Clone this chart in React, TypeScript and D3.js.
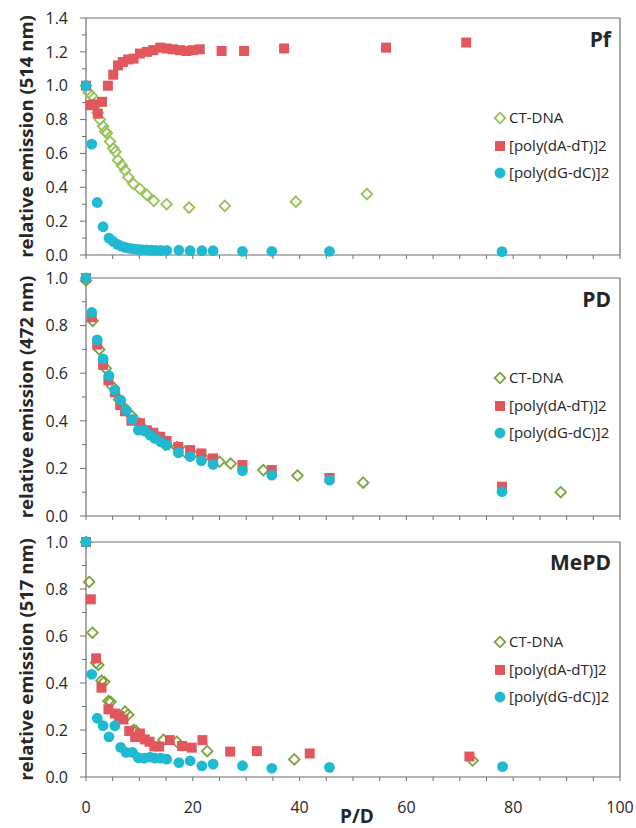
import React from 'react';
import * as d3 from 'd3';

// ---------- data ----------
const xTickValues = [0, 20, 40, 60, 80, 100];
const legendLabels = ['CT-DNA', '[poly(dA-dT)]2', '[poly(dG-dC)]2'];
const panelNames = ['Pf', 'PD', 'MePD'];
const yTitles = ['relative emission (514 nm)', 'relative emission (472 nm)', 'relative emission (517 nm)'];

const pfCT: [number, number][] = [[0,1.0],[0.5,0.96],[1.1,0.94],[1.7,0.88],[2.2,0.84],[2.6,0.8],[3.2,0.76],[3.6,0.73],[3.9,0.72],[4.5,0.67],[5.1,0.63],[5.5,0.61],[6.0,0.56],[6.7,0.53],[7.3,0.5],[7.9,0.46],[8.9,0.42],[10.1,0.39],[11.4,0.355],[12.7,0.32],[15.1,0.3],[19.3,0.28],[26,0.29],[39.3,0.315],[52.6,0.36]];
const pfAT: [number, number][] = [[0,1.0],[0.8,0.885],[1.4,0.89],[2.2,0.835],[3.0,0.905],[4.1,1.0],[5.1,1.065],[6.0,1.12],[6.9,1.14],[7.9,1.155],[8.9,1.16],[10.1,1.19],[11.4,1.2],[12.6,1.21],[13.9,1.225],[15.1,1.22],[16.3,1.215],[17.6,1.21],[18.8,1.205],[20,1.21],[21.3,1.215],[25.4,1.205],[29.6,1.205],[37.1,1.22],[56.2,1.225],[71.2,1.255]];
const pfGC: [number, number][] = [[0,1.0],[1.07,0.655],[2.1,0.31],[3.2,0.167],[4.3,0.1],[5.1,0.08],[5.9,0.063],[6.6,0.052],[7.4,0.045],[8.1,0.04],[8.9,0.036],[9.7,0.033],[10.5,0.031],[11.4,0.03],[12.2,0.028],[13.0,0.027],[14.0,0.027],[15.1,0.027],[17.4,0.028],[19.5,0.025],[21.7,0.025],[23.8,0.025],[29.3,0.022],[34.8,0.022],[45.6,0.022],[77.9,0.02]];

const pdCT: [number, number][] = [[0,0.99],[1.25,0.82],[2.5,0.7],[3.7,0.62],[4.9,0.545],[6.2,0.49],[7.4,0.45],[8.6,0.42],[9.9,0.39],[11.1,0.36],[12.3,0.34],[13.6,0.32],[14.8,0.3],[17,0.29],[18.5,0.27],[20,0.26],[22,0.245],[25,0.228],[27.1,0.22],[33.2,0.193],[39.6,0.17],[51.9,0.14],[88.9,0.1]];
const pdAT: [number, number][] = [[0,1.0],[1.07,0.835],[2.1,0.72],[3.2,0.635],[4.2,0.57],[5.4,0.52],[6.4,0.466],[7.3,0.44],[8.5,0.4],[10.1,0.39],[11.4,0.36],[12.6,0.35],[13.9,0.333],[15.1,0.315],[17.3,0.29],[19.5,0.277],[21.6,0.263],[23.8,0.242],[29.3,0.214],[34.8,0.193],[45.6,0.16],[77.9,0.123]];
const pdGC: [number, number][] = [[0,1.0],[1.07,0.855],[2.1,0.74],[3.2,0.66],[4.3,0.59],[5.4,0.53],[6.5,0.487],[7.5,0.445],[8.7,0.406],[9.8,0.361],[10.9,0.358],[12,0.34],[12.9,0.326],[14,0.312],[15.1,0.298],[17.3,0.266],[19.5,0.25],[21.6,0.232],[23.8,0.217],[29.3,0.19],[34.8,0.172],[45.6,0.151],[77.9,0.102]];

const mepdCT: [number, number][] = [[0,1.0],[0.6,0.83],[1.2,0.614],[1.9,0.486],[2.3,0.477],[2.9,0.41],[3.4,0.405],[4.2,0.323],[4.6,0.32],[7.3,0.278],[7.9,0.265],[8.9,0.2],[9.4,0.195],[14.5,0.158],[17,0.15],[22.7,0.11],[39,0.075],[72.4,0.07]];
const mepdAT: [number, number][] = [[0,1.0],[0.9,0.756],[1.9,0.505],[2.9,0.38],[4.2,0.288],[5.4,0.27],[6.2,0.26],[7.0,0.245],[8.1,0.196],[9.2,0.17],[10.1,0.185],[11.0,0.16],[11.9,0.15],[12.8,0.13],[13.7,0.13],[15.7,0.157],[18.0,0.132],[19.8,0.125],[21.8,0.157],[27,0.108],[32,0.11],[41.9,0.1],[71.8,0.087]];
const mepdGC: [number, number][] = [[0,1.0],[1.07,0.437],[2.1,0.25],[3.2,0.218],[4.3,0.171],[5.4,0.218],[6.5,0.126],[7.5,0.105],[8.7,0.105],[9.8,0.082],[10.9,0.08],[12,0.085],[12.9,0.08],[14,0.08],[15.1,0.076],[17.4,0.061],[19.5,0.069],[21.7,0.047],[23.8,0.055],[29.3,0.048],[34.8,0.037],[45.6,0.041],[78,0.044]];

// ---------- layout ----------
const W = 636, H = 828;
const X0 = 86, X1 = 620;
const FONT = "'Open Sans', sans-serif";
const AXIS = '#6e6e6e';
const TEXT = '#262626';
const RED = '#e2575e';
const BLUE = '#1fbad2';

const panels = [
  { name: panelNames[0], title: yTitles[0], yMax: 1.4, top: 18, bottom: 255, series: [pfCT, pfAT, pfGC], green: '#95c257', legendY: 118, nameY: 39 },
  { name: panelNames[1], title: yTitles[1], yMax: 1.0, top: 278, bottom: 516, series: [pdCT, pdAT, pdGC], green: '#79a53b', legendY: 378, nameY: 299 },
  { name: panelNames[2], title: yTitles[2], yMax: 1.0, top: 542, bottom: 777, series: [mepdCT, mepdAT, mepdGC], green: '#79a53b', legendY: 642, nameY: 562 },
];

const x = d3.scaleLinear().domain([0, 100]).range([X0, X1]);

function Diamond({ cx, cy, color }: { cx: number; cy: number; color: string }) {
  const r = 5.3;
  return <path d={`M${cx},${cy - r}L${cx + r},${cy}L${cx},${cy + r}L${cx - r},${cy}Z`} fill="white" fillOpacity={0} stroke={color} strokeWidth={1.8} />;
}
function Square({ cx, cy }: { cx: number; cy: number }) {
  const s = 10;
  return <rect x={cx - s / 2} y={cy - s / 2} width={s} height={s} fill={RED} />;
}
function Circle({ cx, cy }: { cx: number; cy: number }) {
  return <circle cx={cx} cy={cy} r={5.4} fill={BLUE} />;
}

function Panel({ p, last }: { p: typeof panels[number]; last: boolean }) {
  const y = d3.scaleLinear().domain([0, p.yMax]).range([p.bottom, p.top]);
  const nMinor = Math.round(p.yMax / 0.1);
  const yMinor = d3.range(0, nMinor + 1).map((i) => i * 0.1);
  const yMajor = d3.range(0, Math.round(p.yMax / 0.2) + 1).map((i) => i * 0.2);
  const xMinor = d3.range(0, 21).map((i) => i * 5);
  const [ct, at, gc] = p.series;
  const midY = (p.top + p.bottom) / 2;
  return (
    <g>
      {/* frame */}
      <line x1={X0} x2={X1} y1={p.top} y2={p.top} stroke={AXIS} strokeWidth={1.2} />
      <line x1={X1} x2={X1} y1={p.top} y2={p.bottom} stroke={AXIS} strokeWidth={1.2} />
      <line x1={X0} x2={X0} y1={p.top} y2={p.bottom} stroke={AXIS} strokeWidth={1.2} />
      <line x1={X0} x2={X1} y1={p.bottom} y2={p.bottom} stroke={AXIS} strokeWidth={1.2} />
      {/* y ticks */}
      {yMinor.map((v, i) => (
        <line key={'ym' + i} x1={X0 - (i % 2 === 0 ? 6 : 4)} x2={X0} y1={y(v)} y2={y(v)} stroke={AXIS} strokeWidth={1} />
      ))}
      {yMajor.map((v, i) => (
        <text key={'yl' + i} x={68} y={y(v)} dy="0.36em" textAnchor="end" fontFamily={FONT} fontSize={16} fill={TEXT}>
          {v.toFixed(1)}
        </text>
      ))}
      {/* x ticks */}
      {xMinor.map((v, i) => (
        <line key={'xm' + i} x1={x(v)} x2={x(v)} y1={p.bottom} y2={p.bottom + 4} stroke={AXIS} strokeWidth={1} />
      ))}
      {last &&
        xTickValues.map((v, i) => (
          <text key={'xl' + i} x={x(v)} y={807} dy="0.36em" textAnchor="middle" fontFamily={FONT} fontSize={16} fill={TEXT}>
            {v}
          </text>
        ))}
      {/* y title */}
      <text transform={`translate(26,${midY}) rotate(-90)`} textAnchor="middle" dy="0.36em" fontFamily={FONT} fontWeight="bold" fontSize={18.5} fill={TEXT}>
        {p.title}
      </text>
      {/* panel name */}
      <text x={611} y={p.nameY} dy="0.36em" textAnchor="end" fontFamily={FONT} fontWeight="bold" fontSize={21} fill={TEXT}>
        {p.name}
      </text>
      {/* data */}
      {ct.map((d, i) => <Diamond key={'c' + i} cx={x(d[0])} cy={y(d[1])} color={p.green} />)}
      {at.map((d, i) => <Square key={'a' + i} cx={x(d[0])} cy={y(d[1])} />)}
      {gc.map((d, i) => <Circle key={'g' + i} cx={x(d[0])} cy={y(d[1])} />)}
      {/* legend */}
      <Diamond cx={500} cy={p.legendY} color={p.green} />
      <Square cx={500} cy={p.legendY + 28} />
      <Circle cx={500} cy={p.legendY + 55} />
      {legendLabels.map((l, i) => (
        <text key={'lg' + i} x={509} y={p.legendY + [0, 28, 55][i]} dy="0.36em" fontFamily={FONT} fontSize={15} fill={TEXT}>
          {l}
        </text>
      ))}
    </g>
  );
}

export default function App() {
  return (
    <svg width={W} height={H} style={{ position: 'absolute', left: 0, top: 0, background: 'white' }}>
      <rect width={W} height={H} fill="white" />
      {panels.map((p, i) => (
        <Panel key={p.name} p={p} last={i === panels.length - 1} />
      ))}
      <text x={357} y={816} dy="0.36em" textAnchor="middle" fontFamily={FONT} fontWeight="bold" fontSize={19} fill={TEXT}>
        P/D
      </text>
    </svg>
  );
}
